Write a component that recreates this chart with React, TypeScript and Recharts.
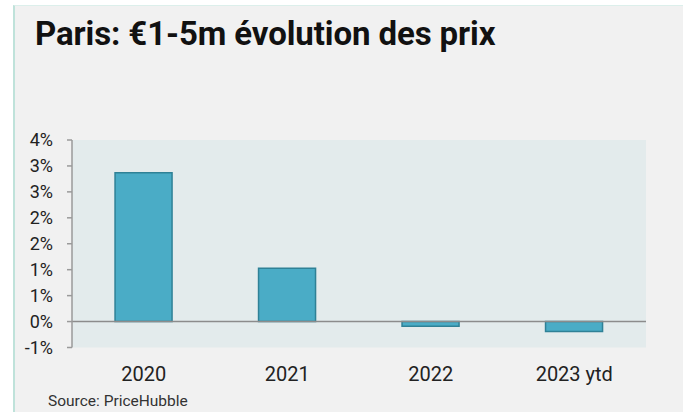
import { BarChart, Bar, XAxis, YAxis, CartesianGrid, ReferenceLine } from "recharts";

const YEARS = ["2020", "2021", "2022", "2023 ytd"];
const CHANGE = [2.87, 1.03, -0.09, -0.19];
const Y_TICKS = [-0.5, 0, 0.5, 1, 1.5, 2, 2.5, 3, 3.5];

const data = YEARS.map((year, i) => ({ year, change: CHANGE[i] }));

// labels are rounded to whole percent, like the source workbook
const pct = (v: number) => `${v < 0 ? "-" : ""}${Math.round(Math.abs(v))}%`;

export default function App() {
  return (
    <div style={{ position: "absolute", left: 0, top: 0, width: 683, height: 412, overflow: "hidden", background: "#fff", fontFamily: "Roboto, sans-serif" }}>
      <div style={{ position: "absolute", left: 13, top: 5, width: 670, height: 407, background: "#f1f1f1", borderLeft: "2px solid #bfe2da", borderTop: "1px solid #dcefeb" }} />
      <div style={{ position: "absolute", left: 35, top: 14, fontSize: 33, fontWeight: 700, color: "#111", letterSpacing: -0.1 }}>
        Paris: €1-5m évolution des prix
      </div>
      <div style={{ position: "absolute", left: 0, top: 0 }}>
        <BarChart width={683} height={412} data={data} margin={{ top: 140, right: 37, bottom: 24.5, left: 12 }} barCategoryGap="30%">
          <CartesianGrid fill="#e3ebec" stroke="none" horizontal={false} vertical={false} />
          <XAxis dataKey="year" axisLine={false} tickLine={false} tickSize={0} tickMargin={19} height={40} tick={{ fontSize: 20, fill: "#222" }} />
          <YAxis
            domain={[-0.5, 3.5]}
            ticks={Y_TICKS}
            tickFormatter={pct}
            width={60}
            axisLine={{ stroke: "#9a9a9a", strokeWidth: 1.5 }}
            tickLine={{ stroke: "#9a9a9a", strokeWidth: 1.5 }}
            tickSize={5}
            tickMargin={14}
            interval={0}
            tick={{ fontSize: 18, fill: "#222" }}
          />
          <ReferenceLine y={0} stroke="#8c8c8c" strokeWidth={1.5} />
          <Bar dataKey="change" fill="#4aacc6" stroke="#2f8196" strokeWidth={1.5} isAnimationActive={false} />
        </BarChart>
      </div>
      <div style={{ position: "absolute", left: 48, top: 392, fontSize: 15.5, lineHeight: "18px", color: "#333" }}>Source: PriceHubble</div>
    </div>
  );
}
